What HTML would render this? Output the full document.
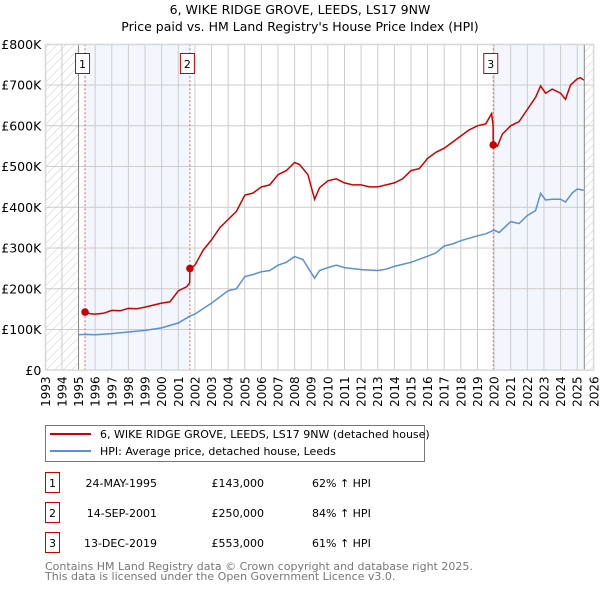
<!DOCTYPE html>
<html><head><meta charset="utf-8"><style>
body{margin:0;background:#fff;width:600px;height:590px;overflow:hidden;font-family:"DejaVu Sans","Liberation Sans",sans-serif;}
svg text{font-family:"DejaVu Sans","Liberation Sans",sans-serif;}
</style></head><body>
<svg id="chart" width="600" height="590" xmlns="http://www.w3.org/2000/svg">
<defs>
<pattern id="hatch" patternUnits="userSpaceOnUse" width="6" height="6" patternTransform="rotate(45)">
<line x1="0" y1="0" x2="0" y2="6" stroke="#ccc" stroke-width="1"/></pattern>
</defs>
<text x="300" y="14" text-anchor="middle" font-size="12.5">6, WIKE RIDGE GROVE, LEEDS, LS17 9NW</text>
<text x="300" y="31" text-anchor="middle" font-size="12.5">Price paid vs. HM Land Registry's House Price Index (HPI)</text>
<g id="plot"></g>
<g>
<rect x="45.5" y="425.5" width="379" height="36" fill="#fff" stroke="#777"/>
<line x1="50" y1="434" x2="91" y2="434" stroke="#cc0000" stroke-width="2"/>
<text x="100" y="438" font-size="11">6, WIKE RIDGE GROVE, LEEDS, LS17 9NW (detached house)</text>
<line x1="50" y1="451" x2="91" y2="451" stroke="#5b8fd6" stroke-width="2"/>
<text x="100" y="455" font-size="11">HPI: Average price, detached house, Leeds</text>
</g>
<g id="table" font-size="11"></g>
<text x="45" y="570" font-size="11" fill="#777">Contains HM Land Registry data © Crown copyright and database right 2025.</text>
<text x="45" y="580" font-size="11" fill="#777">This data is licensed under the Open Government Licence v3.0.</text>
</svg>
<script>
const years=[1993,1994,1995,1996,1997,1998,1999,2000,2001,2002,2003,2004,2005,2006,2007,2008,2009,2010,2011,2012,2013,2014,2015,2016,2017,2018,2019,2020,2021,2022,2023,2024,2025,2026];
const yTicks=[0,100,200,300,400,500,600,700,800];
const yTickLabels=["£0","£100K","£200K","£300K","£400K","£500K","£600K","£700K","£800K"];
const redX=[1995.39,1995.7,1996,1996.5,1997,1997.5,1998,1998.5,1999,1999.5,2000,2000.5,2001,2001.5,2001.69,2001.7,2002,2002.5,2003,2003.5,2004,2004.5,2005,2005.5,2006,2006.5,2007,2007.5,2008,2008.3,2008.8,2009.2,2009.5,2010,2010.5,2011,2011.5,2012,2012.5,2013,2013.5,2014,2014.5,2015,2015.5,2016,2016.5,2017,2017.5,2018,2018.5,2019,2019.5,2019.85,2019.94,2019.95,2020.2,2020.5,2021,2021.5,2022,2022.5,2022.8,2023.1,2023.5,2024,2024.3,2024.6,2025,2025.2,2025.4];
const redY=[143,139,138,140,147,146,152,151,155,160,165,168,195,205,215,250,258,295,320,350,370,390,430,435,450,455,480,490,510,505,480,420,448,465,470,460,455,455,450,450,455,460,470,490,495,520,535,545,560,575,590,600,605,630,600,553,550,580,600,610,640,670,698,680,690,680,665,700,715,718,712];
const blueX=[1995,1995.4,1996,1997,1998,1999,2000,2001,2001.7,2002,2003,2004,2004.5,2005,2005.5,2006,2006.5,2007,2007.5,2008,2008.5,2009.2,2009.5,2010,2010.5,2011,2012,2013,2013.5,2014,2015,2016,2016.5,2017,2017.5,2018,2019,2019.5,2020,2020.3,2021,2021.5,2022,2022.5,2022.8,2023.1,2023.5,2024,2024.3,2024.7,2025,2025.4];
const blueY=[87,88,87,90,94,98,104,116,133,138,165,195,200,230,235,242,245,258,265,279,272,226,245,252,258,252,247,245,248,255,265,280,288,305,310,318,330,335,344,338,365,360,380,392,434,418,420,420,413,435,445,442];
const sales=[{n:"1",x:1995.39,v:143,date:"24-MAY-1995",price:"£143,000",hpi:"62% ↑ HPI"},{n:"2",x:2001.7,v:250,date:"14-SEP-2001",price:"£250,000",hpi:"84% ↑ HPI"},{n:"3",x:2019.95,v:553,date:"13-DEC-2019",price:"£553,000",hpi:"61% ↑ HPI"}];
const X0=45.3,X1=593.8,Y0=370.3,Y1=44.3;
const sx=y=>X0+(y-1993)/33*(X1-X0);
const sy=v=>Y0-v/800*(Y0-Y1);
const NS="http://www.w3.org/2000/svg";
const plot=document.getElementById('plot');
function mk(tag,attrs,parent){const e=document.createElementNS(NS,tag);for(const k in attrs)e.setAttribute(k,attrs[k]);(parent||plot).appendChild(e);return e;}
let e;
e=mk('rect',{x:X0,y:Y1,width:X1-X0,height:Y0-Y1,fill:'#fff'});


e=mk('rect',{x:sx(sales[0].x),y:Y1,width:sx(sales[1].x)-sx(sales[0].x),height:Y0-Y1,fill:'#eef3fc',opacity:0.7});


e=mk('rect',{x:sx(sales[2].x),y:Y1,width:sx(2025.43)-sx(sales[2].x),height:Y0-Y1,fill:'#eef3fc',opacity:0.7});


for(const y of years){e=mk('line',{x1:sx(y),x2:sx(y),y1:Y1,y2:Y0,stroke:'#ccc','stroke-width':1});

}
yTicks.forEach((v,i)=>{e=mk('line',{x1:X0,x2:X1,y1:sy(v),y2:sy(v),stroke:'#ccc','stroke-width':1});


const t=mk('text',{x:X0-4,y:sy(v)+4.5,'text-anchor':'end','font-size':12.5});t.textContent=yTickLabels[i];

});
e=mk('rect',{x:X0,y:Y1,width:sx(1995)-X0,height:Y0-Y1,fill:'url(#hatch)'});


e=mk('rect',{x:sx(2025.43),y:Y1,width:X1-sx(2025.43),height:Y0-Y1,fill:'url(#hatch)'});


mk('line',{x1:sx(1995),x2:sx(1995),y1:Y1,y2:Y0,stroke:'#888'});
mk('line',{x1:sx(2025.43),x2:sx(2025.43),y1:Y1,y2:Y0,stroke:'#888'});
years.forEach(y=>{const t=mk('text',{transform:`translate(${sx(y)+4.5},${Y0+6}) rotate(-90)`,'text-anchor':'end','font-size':12});t.textContent=y;

});
sales.forEach(s=>{e=mk('line',{x1:sx(s.x),x2:sx(s.x),y1:Y1,y2:Y0,stroke:'#e06060','stroke-dasharray':'2,2'});

});
const pts=(xs,ys)=>xs.map((x,i)=>sx(x).toFixed(1)+','+sy(ys[i]).toFixed(1)).join(' ');
e=mk('polyline',{points:pts(blueX,blueY),fill:'none',stroke:'#5b8fd6','stroke-width':1.5});


e=mk('polyline',{points:pts(redX,redY),fill:'none',stroke:'#cc0000','stroke-width':1.5});


sales.forEach(s=>{e=mk('circle',{cx:sx(s.x),cy:sy(s.v),r:3.8,fill:'#cc0000'});


const bx=sx(s.x)-9;
e=mk('rect',{x:bx-0.5,y:53.5,width:14,height:20,fill:'#fff',stroke:'#cc0000'});


const t=mk('text',{x:bx+6.5,y:68,'text-anchor':'middle','font-size':11});t.textContent=s.n;

});
mk('rect',{x:X0+0.5,y:Y1+0.5,width:X1-X0-1,height:Y0-Y1-1,fill:'none',stroke:'#ddd'});
const tbl=document.getElementById('table');
sales.forEach((s,i)=>{const cy=483+i*30;
e=mk('rect',{x:45.5,y:cy-10.5,width:14,height:20,fill:'#fff',stroke:'#cc0000'},tbl);


const add=(x,txt,anc,name)=>{const t=mk('text',{x:x,y:cy+4,'text-anchor':anc},tbl);t.textContent=txt;

};
add(52.5,s.n,'middle','table-row-number');
add(157,s.date,'end','table-date');
add(264,s.price,'end','table-price');
add(312,s.hpi,'start','table-hpi-change');});
</script>
</body></html>
